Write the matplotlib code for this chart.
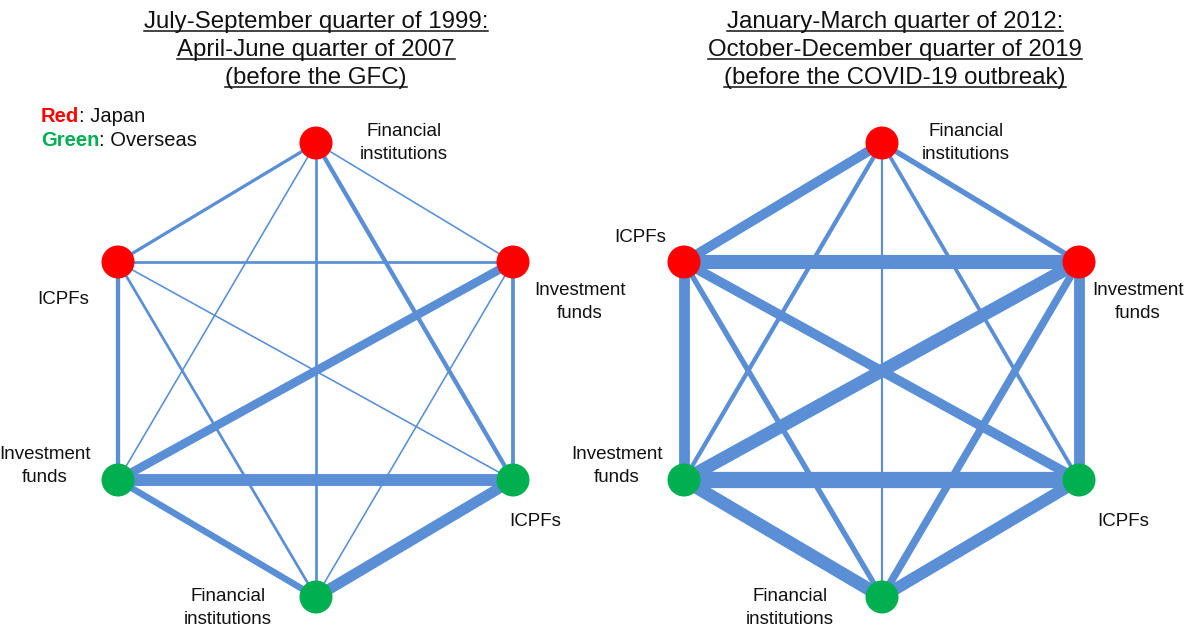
import matplotlib
matplotlib.use("Agg")
import matplotlib.pyplot as plt
from matplotlib.patches import Circle
from matplotlib.lines import Line2D

plt.rcParams['font.family'] = ['Liberation Sans', 'DejaVu Sans']

# ---- data ----
node_keys = ["JFI", "JIC", "JIF", "OIF", "OIC", "OFI"]
node_names = ["Financial\ninstitutions", "ICPFs", "Investment\nfunds",
              "Investment\nfunds", "ICPFs", "Financial\ninstitutions"]
node_region = ["Japan", "Japan", "Japan", "Overseas", "Overseas", "Overseas"]

edge_pairs = [("JFI", "JIC"), ("JFI", "JIF"), ("JFI", "OIF"), ("JFI", "OIC"), ("JFI", "OFI"),
              ("JIC", "JIF"), ("JIC", "OIF"), ("JIC", "OIC"), ("JIC", "OFI"),
              ("JIF", "OIF"), ("JIF", "OIC"), ("JIF", "OFI"),
              ("OIF", "OIC"), ("OIF", "OFI"), ("OIC", "OFI")]

# connectedness strength (drawn as line thickness)
strength_pre_gfc = [3, 1.5, 1.5, 4, 2.5, 2.5, 4, 1.5, 2.5, 8, 3.5, 1.5, 11, 6, 10]
strength_pre_covid = [9, 5, 4, 3.5, 2, 13, 10, 9, 5, 12, 10, 7, 15, 12, 11]

titles = [["July-September quarter of 1999:", "April-June quarter of 2007", "(before the GFC)"],
          ["January-March quarter of 2012:", "October-December quarter of 2019",
           "(before the COVID-19 outbreak)"]]

# ---- layout ----
W, H = 1198, 630
fig = plt.figure(figsize=(W / 100, H / 100), dpi=100)
ax = fig.add_axes([0, 0, 1, 1])
ax.set_xlim(0, W)
ax.set_ylim(H, 0)
ax.axis("off")

EDGE = "#5A8FD6"
RED = "#FF0000"
GREEN = "#00B050"

# hexagon layout offsets relative to panel center
rel_pos = {"JFI": (0, 143), "JIC": (-198, 262), "JIF": (197, 262),
           "OIF": (-198, 480), "OIC": (197, 480), "OFI": (0, 597)}

panels = [
    dict(cx=316, tcx=316, strength=strength_pre_gfc,
         labels={"JFI": (404, 143, "center"), "JIC": (63, 300, "center"),
                 "JIF": (580, 302, "center"), "OIF": (45, 466, "center"),
                 "OIC": (535, 521, "center"), "OFI": (228, 608, "center")}),
    dict(cx=882, tcx=895, strength=strength_pre_covid,
         labels={"JFI": (966, 143, "center"), "JIC": (640, 238, "center"),
                 "JIF": (1138, 302, "center"), "OIF": (617, 466, "center"),
                 "OIC": (1123, 521, "center"), "OFI": (790, 608, "center")}),
]

title_texts = []
for p, ttl in zip(panels, titles):
    pos = {k: (p["cx"] + dx, y) for k, (dx, y) in rel_pos.items()}
    for (a, b), s in zip(edge_pairs, p["strength"]):
        (x1, y1), (x2, y2) = pos[a], pos[b]
        ax.plot([x1, x2], [y1, y2], color=EDGE, lw=s * 0.78,
                solid_capstyle="butt", zorder=1)
    for k, name, reg in zip(node_keys, node_names, node_region):
        x, y = pos[k]
        ax.add_patch(Circle((x, y), 16.5, color=RED if reg == "Japan" else GREEN,
                            zorder=3, lw=0))
        lx, ly, ha = p["labels"][k]
        ax.text(lx, ly, name, ha=ha, va="center", fontsize=13.5,
                color="#111111", linespacing=1.45, zorder=4)
    for i, line in enumerate(ttl):
        t = ax.text(p["tcx"], 22 + i * 28, line, ha="center", va="center",
                    fontsize=17.3, color="#111111")
        title_texts.append(t)

# legend
leg1 = ax.text(41, 117, "Red", color=RED, fontweight="bold", fontsize=14.5,
               ha="left", va="center")
leg2 = ax.text(41, 141, "Green", color=GREEN, fontweight="bold", fontsize=14.5,
               ha="left", va="center")

fig.canvas.draw()
r = fig.canvas.get_renderer()
inv = ax.transData.inverted()
for lt, rest in [(leg1, ": Japan"), (leg2, ": Overseas")]:
    bb = lt.get_window_extent(r)
    x_end = inv.transform((bb.x1, bb.y0))[0]
    ax.text(x_end, lt.get_position()[1], rest, color="#111111", fontsize=14.5,
            ha="left", va="center")

# underline titles
for t in title_texts:
    bb = t.get_window_extent(r)
    (x0, y0) = inv.transform((bb.x0, bb.y0))
    (x1, _) = inv.transform((bb.x1, bb.y0))
    ax.add_line(Line2D([x0, x1], [y0 - 2, y0 - 2], color="#111111", lw=1.1))

fig.savefig("out.png", dpi=100)
